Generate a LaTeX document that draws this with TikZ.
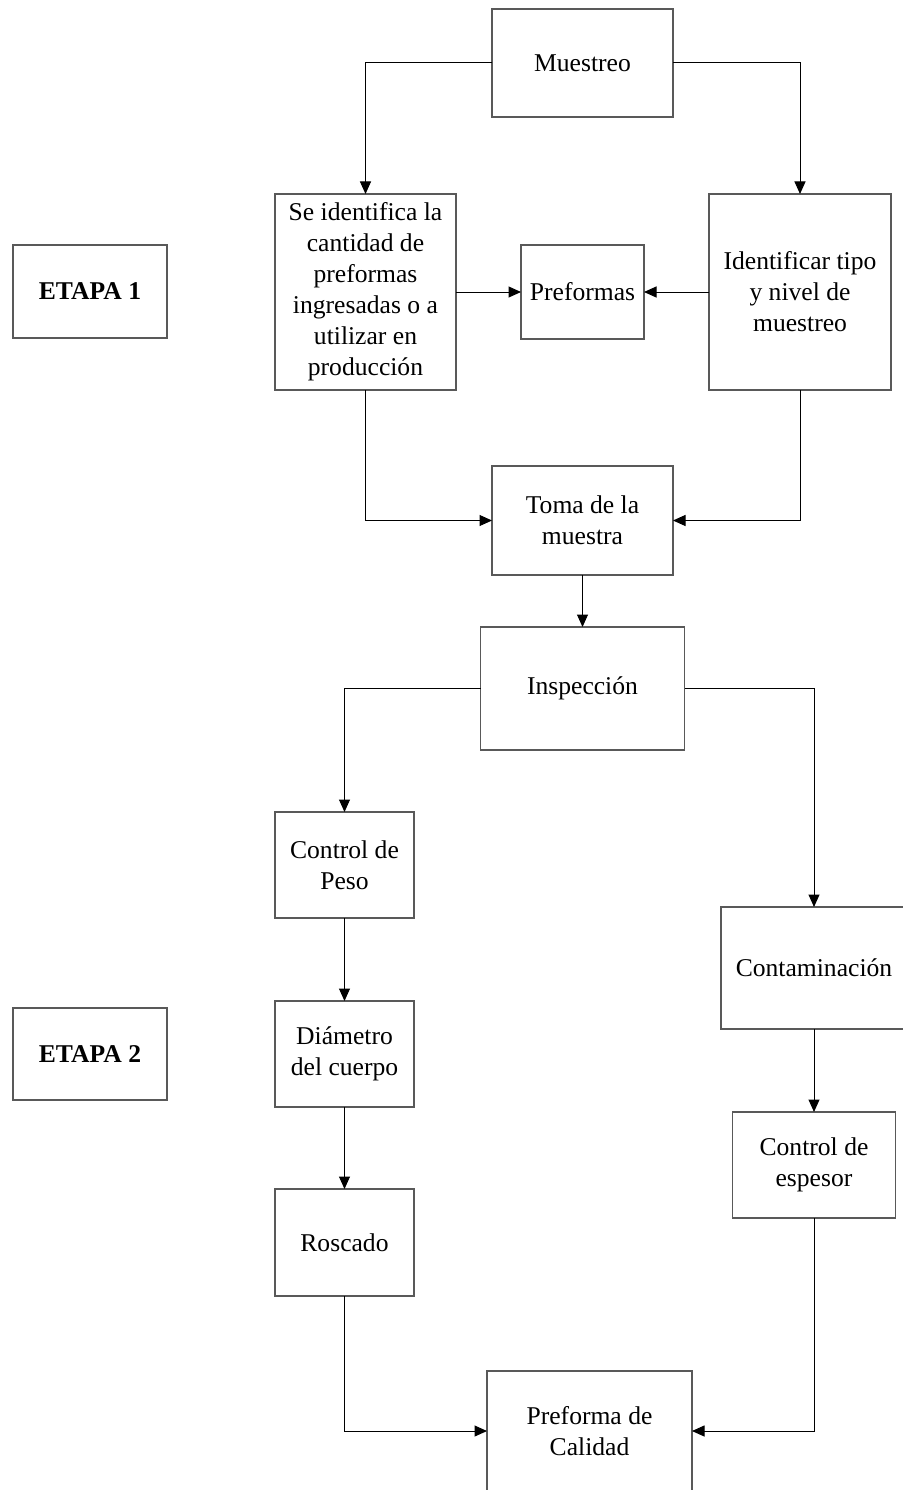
\documentclass[tikz,border=0pt]{standalone}
\usepackage{fontspec}
\setmainfont{Liberation Serif}
\usetikzlibrary{arrows.meta}
\begin{document}
\begin{tikzpicture}[x=1pt,y=-1pt,
  box/.style={draw=black!65,line width=1.3pt,fill=white,inner sep=0pt,outer sep=0pt,
    align=center,font=\fontsize{25.6}{31}\selectfont},
  stage/.style={box,font=\fontsize{25.6}{31}\selectfont\bfseries},
  conn/.style={draw=black,line width=1pt,-{Triangle[length=12.5pt,width=11pt]}}]
\useasboundingbox (0,0) rectangle (902,1490);

% stage labels
\node[stage,minimum width=154pt,minimum height=93pt] (etapa1) at (90,291.5) {ETAPA 1};
\node[stage,minimum width=154pt,minimum height=92pt] (etapa2) at (90,1054) {ETAPA 2};

% stage 1
\node[box,minimum width=181pt,minimum height=108pt] (muestreo) at (582.5,63) {Muestreo};
\node[box,minimum width=181pt,minimum height=196pt] (cantidad) at (365.5,292)
  {Se identifica la\\cantidad de\\preformas\\ingresadas o a\\utilizar en\\producción};
\node[box,minimum width=123pt,minimum height=94pt] (preformas) at (582.5,292) {Preformas};
\node[box,minimum width=182pt,minimum height=196pt] (tipo) at (800,292)
  {Identificar tipo\\y nivel de\\muestreo};
\node[box,minimum width=181pt,minimum height=109pt] (toma) at (582.5,520.5) {Toma de la\\muestra};

% stage 2
\node[box,minimum width=204pt,minimum height=123pt] (inspeccion) at (582.5,688.5) {Inspección};
\node[box,minimum width=139pt,minimum height=106pt] (peso) at (344.5,865) {Control de\\Peso};
\node[box,minimum width=139pt,minimum height=106pt] (diametro) at (344.5,1054) {Diámetro\\del cuerpo};
\node[box,minimum width=139pt,minimum height=107pt] (roscado) at (344.5,1242.5) {Roscado};
\node[box,minimum width=186pt,minimum height=122pt] (contam) at (814,968) {Contaminación};
\node[box,minimum width=163pt,minimum height=106pt] (espesor) at (814,1165) {Control de\\espesor};
\node[box,minimum width=205pt,minimum height=120pt] (calidad) at (589.5,1431) {Preforma de\\Calidad};

% connectors
\draw[conn] (muestreo.west) -| (cantidad.north);
\draw[conn] (muestreo.east) -| (tipo.north);
\draw[conn] (cantidad.east) -- (preformas.west);
\draw[conn] (tipo.west) -- (preformas.east);
\draw[conn] (cantidad.south) |- (toma.west);
\draw[conn] (tipo.south) |- (toma.east);
\draw[conn] (toma.south) -- (inspeccion.north);
\draw[conn] (inspeccion.west) -| (peso.north);
\draw[conn] (inspeccion.east) -| (contam.north);
\draw[conn] (peso.south) -- (diametro.north);
\draw[conn] (diametro.south) -- (roscado.north);
\draw[conn] (contam.south) -- (espesor.north);
\draw[conn] (roscado.south) |- (calidad.west);
\draw[conn] (espesor.south) |- (calidad.east);
\end{tikzpicture}
\end{document}
